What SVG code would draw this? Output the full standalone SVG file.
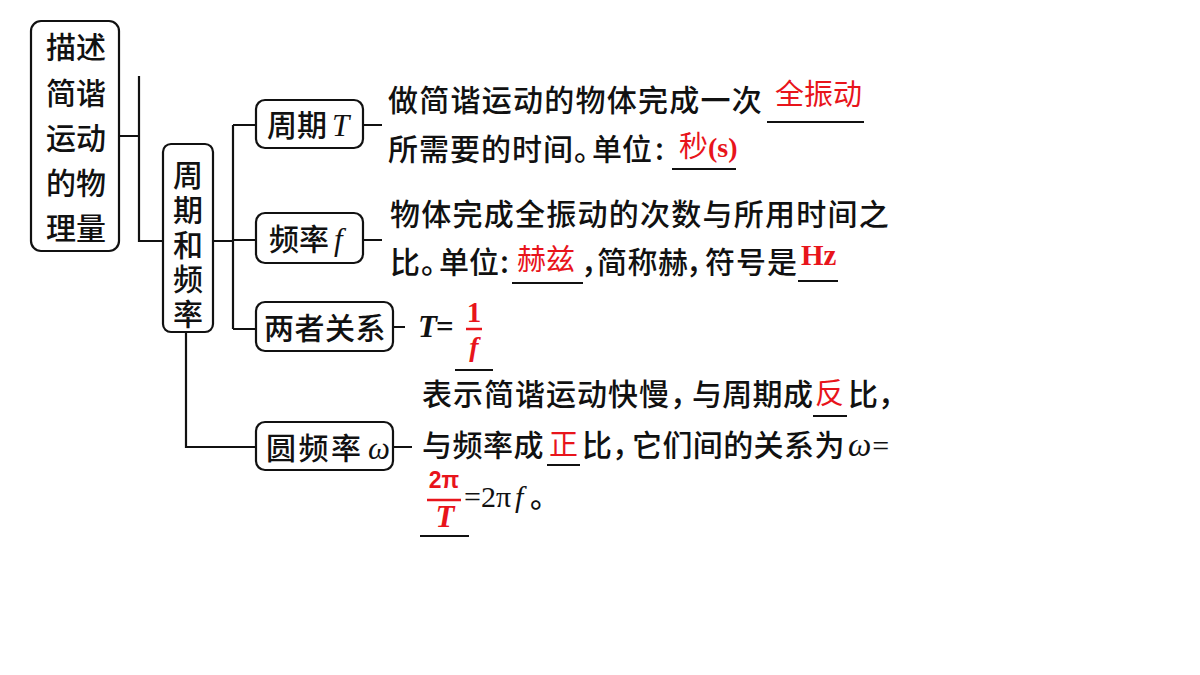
<svg xmlns="http://www.w3.org/2000/svg" width="1200" height="675" viewBox="0 0 1200 675">
<style>
.box{fill:#fff;stroke:#111;stroke-width:2.2}
.ln{fill:none;stroke:#111;stroke-width:2.2}
.ul{fill:none;stroke:#111;stroke-width:2}
.rl{fill:none;stroke:#e8141b;stroke-width:2.5}
.cn{font-family:"Noto Sans CJK SC","Noto Sans",sans-serif;font-size:30px;fill:#111;font-weight:500}
.bx{font-family:"Noto Sans CJK SC","Noto Sans",sans-serif;font-size:30px;fill:#111;font-weight:500}
.red{font-family:"Noto Sans CJK SC","Noto Sans",sans-serif;font-size:29px;fill:#e8141b;font-weight:400}
.ser{font-family:"Liberation Serif",serif}
.sans{font-family:"Liberation Sans",sans-serif}
</style>
<rect width="1200" height="675" fill="#fff"/>
<g id="connectors">
<path class="ln" d="M119 136H139M139 76V241H163"/>
<path class="ln" d="M213 241H233M233 125V329M233 125H256M233 240H256M233 329H256"/>
<path class="ln" d="M186 332V447H256"/>
<path class="ln" d="M363 125H382M363 240H382M393 327H405M393 447H412"/>
</g>
<g id="root">
<rect class="box" x="31" y="21" width="88" height="230" rx="10"/>
<text class="bx" x="46" y="58">描述</text>
<text class="bx" x="46" y="104">简谐</text>
<text class="bx" x="46" y="149">运动</text>
<text class="bx" x="46" y="194">的物</text>
<text class="bx" x="46" y="239">理量</text>
</g>
<g id="zhouqi-pinlv">
<rect class="box" x="163" y="144" width="50" height="188" rx="8"/>
<text class="bx" x="188" y="160" writing-mode="vertical-rl" letter-spacing="4.6">周期和频率</text>
</g>
<g id="period">
<rect class="box" x="256" y="100" width="107" height="48" rx="9"/>
<text class="bx" x="267" y="136">周期</text>
<text class="ser" x="332" y="136" font-size="31" font-style="italic" fill="#111">T</text>
</g>
<g id="frequency">
<rect class="box" x="256" y="213" width="107" height="50" rx="9"/>
<text class="bx" x="269" y="250">频率</text>
<text class="ser" x="334" y="250" font-size="31" font-style="italic" fill="#111">f</text>
</g>
<g id="relation">
<rect class="box" x="256" y="302" width="137" height="49" rx="9"/>
<text class="bx" x="264" y="339" letter-spacing="0.5">两者关系</text>
</g>
<g id="angular">
<rect class="box" x="256" y="422" width="137" height="48" rx="9"/>
<text class="bx" x="266" y="459" letter-spacing="2.5">圆频率</text>
<text class="ser" x="368" y="459" font-size="31" font-style="italic" fill="#111">ω</text>
</g>
<g id="period-text">
<text class="cn" x="388" y="111" letter-spacing="1.25">做简谐运动的物体完成一次</text>
<text class="red" x="775" y="105">全振动</text>
<path class="ul" d="M767 122H864"/>
<text class="cn" y="160" x="388 419 450 481 512 543 574 592 622 655">所需要的时间。单位:</text>
<text class="red" x="679" y="157" font-size="28">秒</text>
<text class="ser" x="708" y="157" font-size="28" font-weight="bold" fill="#e8141b">(s)</text>
<path class="ul" d="M672 169H736"/>
</g>
<g id="frequency-text">
<text class="cn" x="390" y="225" letter-spacing="1.25">物体完成全振动的次数与所用时间之</text>
<text class="cn" y="273" x="390 421 439 469 500">比。单位:</text>
<text class="red" x="517" y="270" font-size="29">赫兹</text>
<path class="ul" d="M512 283H583"/>
<text class="cn" y="273" x="581 597 627.5 658 686 705 736 767">，简称赫，符号是</text>
<text class="ser" x="801" y="265" font-size="29" font-weight="bold" fill="#e8141b">Hz</text>
<path class="ul" d="M798 281H838"/>
</g>
<g id="relation-text">
<text class="ser" x="418" y="337" font-size="31" font-weight="bold" font-style="italic" fill="#111">T<tspan font-style="normal" dx="-1">=</tspan></text>
<text class="ser" x="474" y="322" font-size="29" font-weight="bold" fill="#e8141b" text-anchor="middle">1</text>
<path class="rl" d="M466 329H482"/>
<text class="ser" x="474" y="356" font-size="28" font-weight="bold" font-style="italic" fill="#e8141b" text-anchor="middle">f</text>
<path class="ul" d="M455 370H493"/>
</g>
<g id="angular-text">
<text class="cn" y="405" x="422 453 484 515 546 577 608 639 670 692 722.3 752.6 783">表示简谐运动快慢，与周期成</text>
<text class="red" x="815" y="404" font-size="30">反</text>
<path class="ul" d="M813 416H847"/>
<text class="cn" x="848" y="405">比，</text>
<text class="cn" x="422" y="456" letter-spacing="0.5">与频率成</text>
<text class="red" x="549" y="455" font-size="30">正</text>
<path class="ul" d="M547 465H580"/>
<text class="cn" y="456" x="582 612 632 662.4 692.8 723.2 753.6 784 814.4">比，它们间的关系为</text>
<text class="ser" x="848" y="456" font-size="33" font-style="italic" fill="#111">ω<tspan font-style="normal" font-size="30" dx="1">=</tspan></text>
<text class="sans" x="444" y="488" font-size="23" font-weight="bold" fill="#e8141b" text-anchor="middle">2π</text>
<path class="rl" d="M427 500H461"/>
<text class="ser" x="445" y="527" font-size="31" font-weight="bold" font-style="italic" fill="#e8141b" text-anchor="middle">T</text>
<text class="ser" x="464" y="507" font-size="30" fill="#111">=2π<tspan font-style="italic" dx="4">f</tspan></text>
<text class="cn" x="530" y="507" font-size="28">。</text>
<path class="ul" d="M420 536H469"/>
</g>
</svg>
